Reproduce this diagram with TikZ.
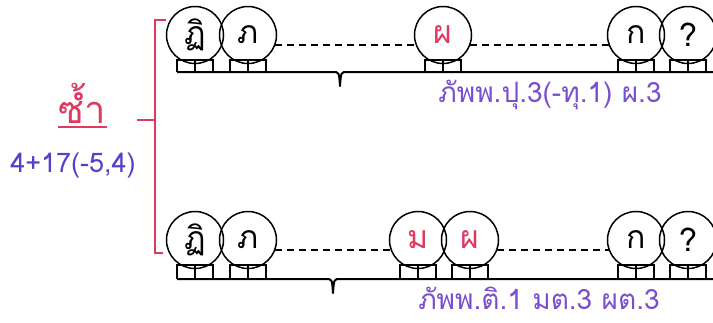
\documentclass[tikz,border=0pt]{standalone}
\usepackage{fontspec}
\newfontfamily\thai[Script=Thai]{Loma}
\usepackage{tikz}
\usetikzlibrary{calc}
\definecolor{rep}{RGB}{222,58,96}
\definecolor{lblc}{RGB}{122,78,205}
\definecolor{cnt}{RGB}{88,62,200}
\newcommand{\pk}[1]{\textcolor{rep}{#1}}

\begin{document}
\begin{tikzpicture}[x=1pt,y=-1pt,line width=1.5pt,
  gong/.style={circle,draw,line width=1.5pt,minimum size=57pt,inner sep=0pt,font=\thai\fontsize{32}{32}\selectfont},
  dashline/.style={dash pattern=on 7pt off 5pt},
  baseln/.style={line width=2pt,line join=round},
  rowlabel/.style={font=\thai\fontsize{28}{28}\selectfont,lblc,anchor=base}]
  \useasboundingbox (0,0) rectangle (713,322);
  \foreach \n/\x/\t in {1/195/ฏิ,2/248/ภ,3/443/\pk{ผ},4/636/ก,5/688/?} {
    \node[gong] (t\n) at (\x,35) {\t};
    \draw (\x-18,72) |- (\x+18,60) -- (\x+18,72) (\x,60) -- (\x,72); }
  \foreach \n/\x/\t in {1/195/ฏิ,2/248/ภ,3/418/\pk{ม},4/470/\pk{ผ},5/636/ก,6/688/?} {
    \node[gong] (b\n) at (\x,240) {\t};
    \draw (\x-18,279) |- (\x+18,265) -- (\x+18,279) (\x,265) -- (\x,279); }
  \draw[dashline] (t2.-20) -- (t3.200) (t3.-20) -- (t4.200);
  \draw[dashline] (b2.-20) -- (b3.200) (b4.-20) -- (b5.200);
  \draw[baseln] ($(t1)+(-18,37)$) -- (333,72) .. controls (339,72) .. (340,86) .. controls (341,72) .. (347,72) -- (713,72);
  \draw[baseln] ($(b1)+(-18,39)$) -- (326,279) .. controls (332,279) .. (333,293) .. controls (334,279) .. (340,279) -- (713,279);
  \node[rowlabel] (tl) at (550,102) {ภัพพ.ปุ.3(-ทุ.1) ผ.3};
  \node[rowlabel] (bl) at (539,309) {ภัพพ.ติ.1 มต.3 ผต.3};
  \draw[rep,line width=1.8pt] (166,20) -| (155,253) -- (163,253) (155,120) -- (137,120);
  \node[font=\thai\fontsize{38}{38}\selectfont,rep,anchor=base] (rp) at (82,123) {ซ้ำ};
  \draw[rep,line width=1.8pt] (58,127) -- (107,127);
  \node[font=\thai\fontsize{27}{27}\selectfont,cnt,anchor=base] (ct) at (73,172) {4+17(-5,4)};
\end{tikzpicture}
\end{document}
